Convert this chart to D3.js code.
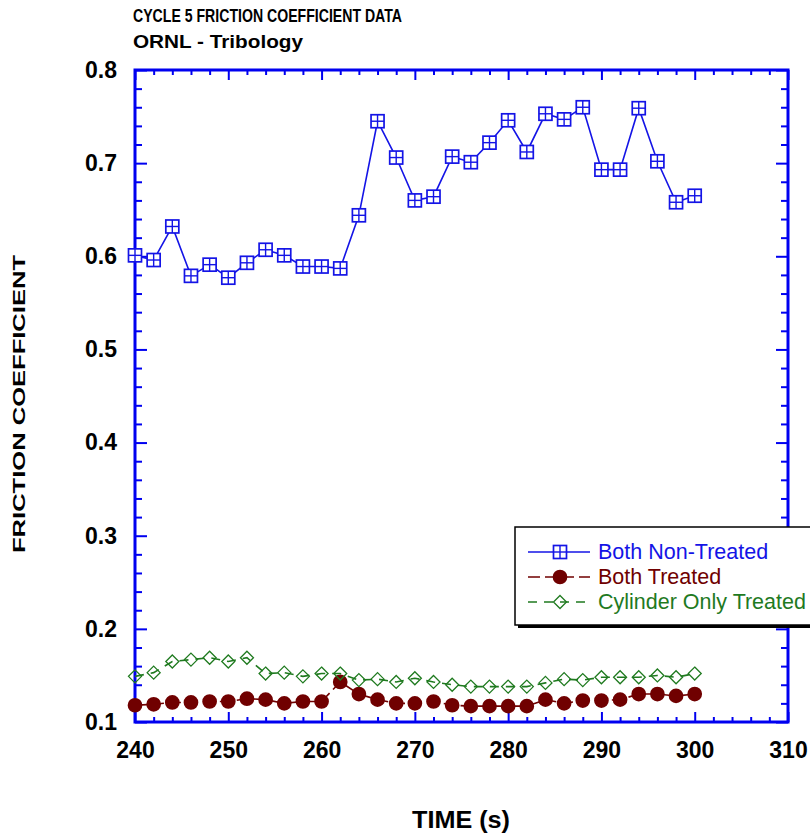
<!DOCTYPE html>
<html>
<head>
<meta charset="utf-8">
<script src="https://cdn.jsdelivr.net/npm/d3@7"></script>
<style>
  body { margin: 0; background: #fff; }
  text { font-family: "Liberation Sans", Arial, sans-serif; }
</style>
</head>
<body>
<svg id="chart" width="810" height="836"></svg>
<script>
// time in seconds
var times = [240,242,244,246,248,250,252,254,256,258,260,262,264,266,268,270,
             272,274,276,278,280,282,284,286,288,290,292,294,296,298,300];

var bothNonTreated = [0.601,0.596,0.632,0.579,0.591,0.577,0.593,0.607,0.601,0.589,0.589,0.587,0.644,0.745,0.706,0.660,
                      0.664,0.707,0.701,0.722,0.746,0.712,0.753,0.747,0.760,0.693,0.693,0.759,0.702,0.658,0.665];
var bothTreated = [0.118,0.119,0.121,0.121,0.122,0.122,0.125,0.124,0.120,0.122,0.122,0.143,0.130,0.124,0.120,0.120,
                   0.122,0.118,0.117,0.117,0.117,0.117,0.124,0.120,0.123,0.123,0.124,0.130,0.130,0.128,0.130];
var cylinderOnly = [0.149,0.153,0.165,0.167,0.169,0.165,0.169,0.152,0.153,0.149,0.152,0.152,0.145,0.146,0.143,0.147,
                    0.143,0.140,0.138,0.138,0.138,0.138,0.142,0.146,0.145,0.148,0.148,0.148,0.150,0.148,0.152];

var xMajor = [240,250,260,270,280,290,300,310];
var xMinor = [242,244,246,248,252,254,256,258,262,264,266,268,272,274,276,278,282,284,286,288,292,294,296,298,302,304,306,308];
var yMajor = [0.1,0.2,0.3,0.4,0.5,0.6,0.7,0.8];
var yMinor = [0.12,0.14,0.16,0.18,0.22,0.24,0.26,0.28,0.32,0.34,0.36,0.38,0.42,0.44,0.46,0.48,
              0.52,0.54,0.56,0.58,0.62,0.64,0.66,0.68,0.72,0.74,0.76,0.78];

var seriesNames = ['Both Non-Treated', 'Both Treated', 'Cylinder Only Treated'];

var BLUE = '#1414e6', RED = '#700000', GREEN = '#1f7a1f', AXIS = '#0000f0';
var plotL = 135, plotR = 788, plotT = 70, plotB = 722;

var svg = d3.select('#chart');
var x = d3.scaleLinear().domain([240, 310]).range([plotL, plotR]);
var y = d3.scaleLinear().domain([0.1, 0.8]).range([plotB, plotT]);

// titles
svg.append('text').attr('x', 133).attr('y', 22).attr('font-size', 19).attr('font-weight', 'bold')
  .attr('textLength', 269).attr('lengthAdjust', 'spacingAndGlyphs')
  .text('CYCLE 5 FRICTION COEFFICIENT DATA');
svg.append('text').attr('x', 133).attr('y', 48).attr('font-size', 19).attr('font-weight', 'bold')
  .attr('textLength', 170).attr('lengthAdjust', 'spacingAndGlyphs')
  .text('ORNL - Tribology');

// axis titles
svg.append('text').attr('transform', 'translate(25,404) rotate(-90)')
  .attr('text-anchor', 'middle').attr('font-size', 17).attr('font-weight', 'bold')
  .attr('textLength', 298).attr('lengthAdjust', 'spacingAndGlyphs')
  .text('FRICTION COEFFICIENT');
svg.append('text').attr('x', 461).attr('y', 828)
  .attr('text-anchor', 'middle').attr('font-size', 23).attr('font-weight', 'bold')
  .attr('textLength', 98).attr('lengthAdjust', 'spacingAndGlyphs')
  .text('TIME (s)');

// axes
function styleAxis(g) {
  g.select('.domain').remove();
  g.selectAll('line').attr('stroke', AXIS).attr('stroke-width', 2);
  g.selectAll('text').attr('font-size', 23).attr('font-weight', 'bold')
    .attr('font-family', '"Liberation Sans", Arial, sans-serif').attr('fill', '#000');
}

svg.append('g').attr('transform', 'translate(0,' + plotB + ')')
  .call(d3.axisBottom(x).tickValues(xMajor).tickSize(-10).tickPadding(20).tickFormat(d3.format('d')))
  .call(styleAxis);
svg.append('g').attr('transform', 'translate(0,' + plotB + ')')
  .call(d3.axisBottom(x).tickValues(xMinor).tickSize(-5).tickFormat(''))
  .call(styleAxis);
svg.append('g').attr('transform', 'translate(0,' + plotT + ')')
  .call(d3.axisTop(x).tickValues(xMajor).tickSize(-10).tickFormat(''))
  .call(styleAxis);
svg.append('g').attr('transform', 'translate(0,' + plotT + ')')
  .call(d3.axisTop(x).tickValues(xMinor).tickSize(-5).tickFormat(''))
  .call(styleAxis);

svg.append('g').attr('transform', 'translate(' + plotL + ',0)')
  .call(d3.axisLeft(y).tickValues(yMajor).tickSize(-12).tickPadding(18).tickFormat(d3.format('.1f')))
  .call(styleAxis);
svg.append('g').attr('transform', 'translate(' + plotL + ',0)')
  .call(d3.axisLeft(y).tickValues(yMinor).tickSize(-7).tickFormat(''))
  .call(styleAxis);
svg.append('g').attr('transform', 'translate(' + plotR + ',0)')
  .call(d3.axisRight(y).tickValues(yMajor).tickSize(-12).tickFormat(''))
  .call(styleAxis);
svg.append('g').attr('transform', 'translate(' + plotR + ',0)')
  .call(d3.axisRight(y).tickValues(yMinor).tickSize(-7).tickFormat(''))
  .call(styleAxis);

// frame
svg.append('rect').attr('x', plotL).attr('y', plotT).attr('width', plotR - plotL).attr('height', plotB - plotT)
  .attr('fill', 'none').attr('stroke', AXIS).attr('stroke-width', 3);

// marker helpers
function squareMarker(g, cx, cy) {
  var s = 6.5;
  g.append('rect').attr('x', cx - s).attr('y', cy - s).attr('width', 2 * s).attr('height', 2 * s)
    .attr('fill', '#fff').attr('stroke', BLUE).attr('stroke-width', 1.7);
  g.append('line').attr('x1', cx - s).attr('x2', cx + s).attr('y1', cy).attr('y2', cy)
    .attr('stroke', BLUE).attr('stroke-width', 1.4);
  g.append('line').attr('x1', cx).attr('x2', cx).attr('y1', cy - s).attr('y2', cy + s)
    .attr('stroke', BLUE).attr('stroke-width', 1.4);
}
function dotMarker(g, cx, cy) {
  g.append('path').attr('transform', 'translate(' + cx + ',' + cy + ')')
    .attr('d', d3.symbol(d3.symbolCircle, 170)()).attr('fill', RED);
}
function diamondMarker(g, cx, cy) {
  g.append('path').attr('transform', 'translate(' + cx + ',' + cy + ')')
    .attr('d', 'M0,-6.5L6.5,0L0,6.5L-6.5,0Z')
    .attr('fill', 'none').attr('stroke', GREEN).attr('stroke-width', 1.3);
}

var line = d3.line().x(function (d) { return x(d[0]); }).y(function (d) { return y(d[1]); });

function drawSeries(values, color, dash, marker) {
  var pts = times.map(function (t, i) { return [t, values[i]]; });
  var g = svg.append('g');
  g.append('path').datum(pts).attr('d', line).attr('fill', 'none')
    .attr('stroke', color).attr('stroke-width', 1.6).attr('stroke-dasharray', dash);
  pts.forEach(function (p) { marker(g, x(p[0]), y(p[1])); });
}

drawSeries(bothTreated, RED, '12,5', dotMarker);
drawSeries(cylinderOnly, GREEN, '9,7', diamondMarker);
drawSeries(bothNonTreated, BLUE, null, squareMarker);

// legend
var lg = svg.append('g');
lg.append('rect').attr('x', 518).attr('y', 530).attr('width', 320).attr('height', 98).attr('fill', '#000');
lg.append('rect').attr('x', 515).attr('y', 527).attr('width', 320).attr('height', 98)
  .attr('fill', '#fff').attr('stroke', '#000').attr('stroke-width', 1.5);

var legendColors = [BLUE, RED, GREEN];
var legendDash = [null, '12,5', '9,7'];
var legendMarkers = [squareMarker, dotMarker, diamondMarker];
seriesNames.forEach(function (name, i) {
  var ly = 552 + i * 25;
  lg.append('line').attr('x1', 528).attr('x2', 590).attr('y1', ly).attr('y2', ly)
    .attr('stroke', legendColors[i]).attr('stroke-width', 1.6).attr('stroke-dasharray', legendDash[i]);
  legendMarkers[i](lg, 560, ly);
  lg.append('text').attr('x', 598).attr('y', ly + 7).attr('font-size', 21.5)
    .attr('fill', legendColors[i]).text(name);
});
</script>
</body>
</html>
